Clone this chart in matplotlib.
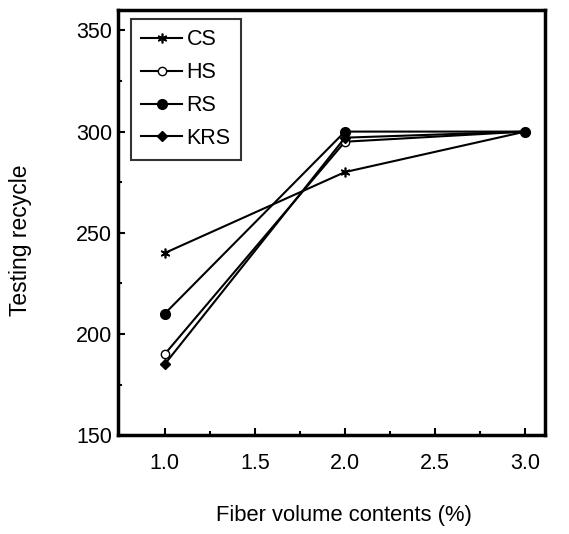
import matplotlib.pyplot as plt
import numpy as np

plt.rcParams['font.family'] = ['Liberation Sans', 'DejaVu Sans']

# fiber volume contents (%)
x = [1.0, 2.0, 3.0]

# testing recycle per specimen type
cs = [240, 280, 300]
hs = [190, 295, 300]
rs = [210, 300, 300]
krs = [185, 297, 300]

fig = plt.figure(figsize=(5.69, 5.34), dpi=100)
ax = fig.add_axes([0.207, 0.185, 0.751, 0.796])

ax.plot(x, cs, color='black', lw=1.5, marker=(6, 2, 0), ms=7, mew=1.2, label='CS')
ax.plot(x, hs, color='black', lw=1.5, marker='o', ms=6, mfc='white', mew=1.0, label='HS')
ax.plot(x, rs, color='black', lw=1.5, marker='o', ms=7, label='RS')
ax.plot(x, krs, color='black', lw=1.5, marker='D', ms=5, label='KRS')

ax.set_xlim(0.74, 3.11)
ax.set_ylim(150, 360)
ax.set_xticks([1.0, 1.5, 2.0, 2.5, 3.0])
ax.set_xticks(np.arange(1.25, 3.0, 0.5), minor=True)
ax.set_yticks([150, 200, 250, 300, 350])
ax.set_yticks([175, 225, 275, 325], minor=True)
ax.tick_params(which='both', direction='in', labelsize=15.5, width=1.5)
ax.tick_params(which='major', length=5)
ax.tick_params(which='minor', length=3)
ax.tick_params(axis='y', pad=4)
ax.tick_params(axis='x', pad=13)

for s in ax.spines.values():
    s.set_linewidth(2.5)

ax.set_xlabel('Fiber volume contents (%)', fontsize=15.8)
ax.set_ylabel('Testing recycle', fontsize=16.5)
ax.xaxis.set_label_coords(0.530, -0.165)
ax.yaxis.set_label_coords(-0.201, 0.459)

leg = ax.legend(loc='upper left', bbox_to_anchor=(0.03, 0.98), fontsize=15.5,
                frameon=True, fancybox=False, edgecolor='black',
                handlelength=1.9, handletextpad=0.2, labelspacing=0.55,
                borderpad=0.5, borderaxespad=0)
leg.get_frame().set_linewidth(1.5)

fig.savefig('out.png', dpi=100)
